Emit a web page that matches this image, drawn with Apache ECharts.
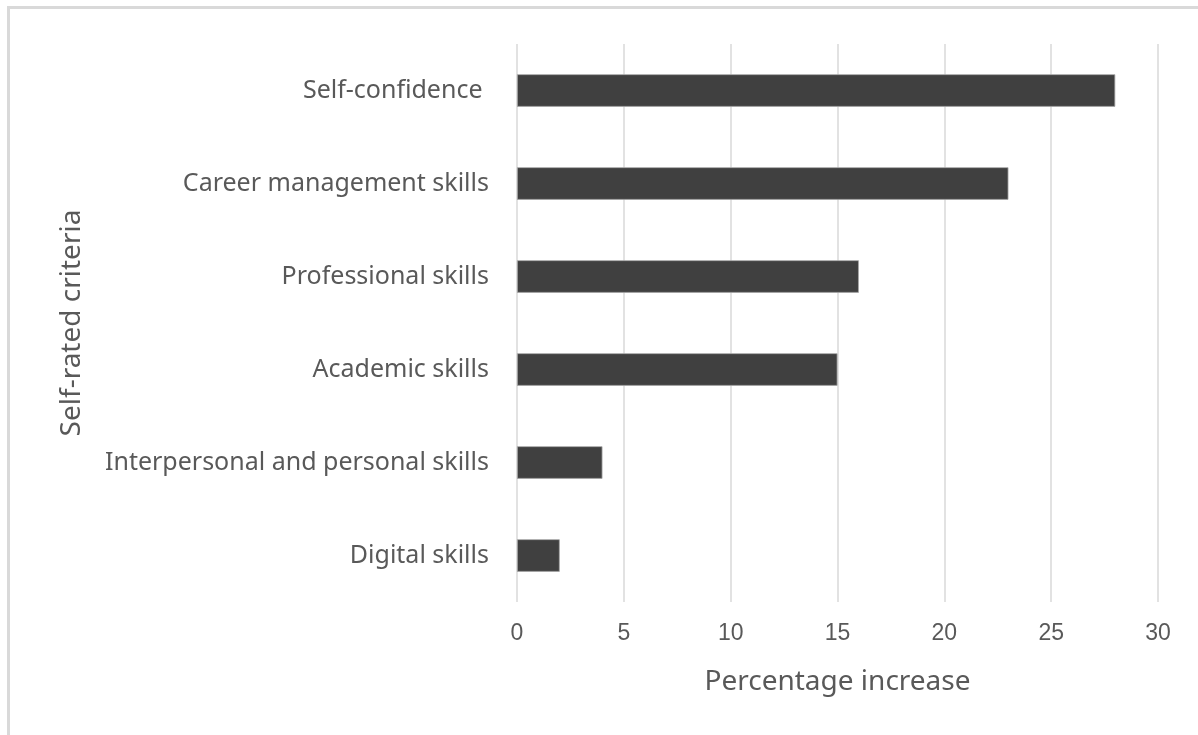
<!DOCTYPE html>
<html><head><meta charset="utf-8">
<script src="https://cdn.jsdelivr.net/npm/echarts@6/dist/echarts.min.js"></script>
<style>html,body{margin:0;padding:0;background:#fff}#c{width:1198px;height:735px}</style>
</head><body><div id="c"></div>
<script>
const categories = ["Digital skills", "Interpersonal and personal skills", "Academic skills", "Professional skills", "Career management skills", "Self-confidence "];
const values = [2, 4, 15, 16, 23, 28];
const xTicks = [0, 5, 10, 15, 20, 25, 30];

const chart = echarts.init(document.getElementById('c'), null, {renderer: 'canvas'});
chart.setOption({
  animation: false,
  backgroundColor: '#ffffff',
  graphic: [{
    type: 'rect', silent: true, z: -1,
    shape: {x: 8.5, y: 7.5, width: 1400, height: 900},
    style: {fill: 'none', stroke: '#d9d9d9', lineWidth: 3}
  }],
  grid: {left: 517, right: 40, top: 44, bottom: 133, containLabel: false},
  xAxis: {
    type: 'value', min: xTicks[0], max: xTicks[xTicks.length - 1], interval: 5,
    name: 'Percentage increase', nameLocation: 'middle', nameGap: 66,
    nameTextStyle: {fontFamily: 'Noto Sans', fontSize: 28, color: '#595959'},
    axisLine: {show: false}, axisTick: {show: false},
    axisLabel: {margin: 20, fontFamily: 'Liberation Sans', fontSize: 23, color: '#595959'},
    splitLine: {show: true, lineStyle: {color: '#d9d9d9', width: 1.5}}
  },
  yAxis: {
    type: 'category', data: categories,
    name: 'Self-rated criteria', nameLocation: 'middle', nameGap: 431, nameRotate: 90,
    nameTextStyle: {fontFamily: 'Noto Sans', fontSize: 28, color: '#595959'},
    axisLine: {show: false}, axisTick: {show: false},
    axisLabel: {margin: 28, fontFamily: 'Noto Sans', fontSize: 25, color: '#595959'},
    splitLine: {show: false}
  },
  series: [{
    type: 'bar', data: values, barCategoryGap: '65%',
    itemStyle: {color: '#404040', borderColor: '#a6a6a6', borderWidth: 0.8}
  }]
});
</script></body></html>
